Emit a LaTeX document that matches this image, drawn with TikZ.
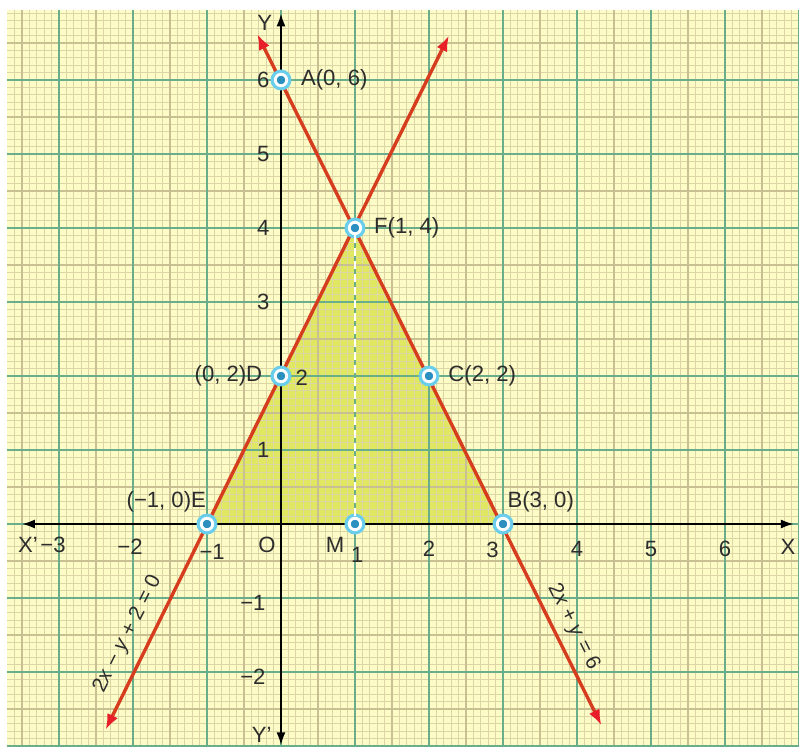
\documentclass[tikz,border=0pt]{standalone}
\usepackage{fontspec}
\setmainfont{Liberation Sans}
\usetikzlibrary{arrows.meta, positioning}
\definecolor{paperYellow}{HTML}{FDFBC6}
\definecolor{gridMinor}{HTML}{DCD6A6}
\definecolor{gridMid}{HTML}{C8BF92}
\definecolor{gridMajor}{HTML}{6AAD8A}
\definecolor{regionGreen}{HTML}{E0E760}
\definecolor{lineRed}{HTML}{D63C1E}
\definecolor{tipRed}{HTML}{E81E28}
\definecolor{ringBlue}{HTML}{6ACDEB}
\definecolor{dotBlue}{HTML}{2B8FC0}
\definecolor{textDark}{HTML}{2D2D2D}

\begin{document}
\begin{tikzpicture}[
    font=\fontsize{8.5}{10}\selectfont\color{textDark},
    pt/.style={circle, inner sep=0pt, minimum size=4.4pt, fill=dotBlue,
               draw=white, line width=1.1pt,
               preaction={draw=ringBlue, line width=3.6pt}},
    axis/.style={line width=0.8pt, {Latex[length=5pt,width=3.5pt]}-{Latex[length=5pt,width=3.5pt]}},
    redline/.style={lineRed, line width=1.3pt,
                    {Latex[length=6pt,width=4.5pt,color=tipRed]}-{Latex[length=6pt,width=4.5pt,color=tipRed]}},
    eqn/.style={font=\fontsize{8}{10}\selectfont\color{textDark}, inner sep=1pt},
  ]
    \useasboundingbox (-3.797,-3.014) rectangle (7.0,7.081);

    % graph paper
    \fill[paperYellow] (-3.7,-3.014) rectangle (7.0,6.95);
    \fill[regionGreen] (-1,0) -- (1,4) -- (3,0) -- cycle;
    \draw[gridMinor, line width=0.3pt, step=0.1] (-3.7,-3.014) grid (7.0,6.95);
    \draw[gridMid, line width=0.5pt, step=0.5] (-3.7,-3.014) grid (7.0,6.95);
    \draw[gridMajor, line width=1pt, step=1] (-3.7,-3.014) grid (7.0,6.95);

    % axes
    \coordinate (xl) at (-3.5,0);
    \coordinate (xr) at (6.93,0);
    \coordinate (yb) at (0,-2.99);
    \coordinate (yt) at (0,6.9);
    \draw[axis] (xl) -- (xr);
    \draw[axis] (yb) -- (yt);

    \node (lX)  at (6.85,-0.31) {X};
    \node (lXp) at (-3.42,-0.28) {X'};
    \node (lY)  at (-0.22,6.77) {Y};
    \node (lYp) at (-0.26,-2.85) {Y'};
    \node (lO)  at (-0.19,-0.28) {O};

    % tick numbers
    \foreach \x in {2,4,5,6}
      \node (tx\x) at (\x,-0.34) {\x};
    \node (txm3) at (-3.08,-0.28) {−3};
    \node (txm2) at (-2.04,-0.31) {−2};
    \node (txm1) at (-0.93,-0.38) {−1};
    \node (tx1)  at (1.03,-0.42) {1};
    \node (tx3)  at (2.86,-0.35) {3};
    \foreach \y in {1,3,4,5,6}
      \node (ty\y) at (-0.24,\y) {\y};
    \node (ty2)  at (0.28,1.98) {2};
    \node (tym1) at (-0.38,-1.07) {−1};
    \node (tym2) at (-0.38,-2.07) {−2};

    % the two lines
    \coordinate (p1s) at (-2.37,-2.78);
    \coordinate (p1e) at (2.27,6.6);
    \coordinate (p2s) at (-0.32,6.62);
    \coordinate (p2e) at (4.33,-2.72);
    \draw[redline] (p1s) -- (p1e);
    \draw[redline] (p2s) -- (p2e);

    \node[eqn, rotate=63.43] (eq1) at (-2.07,-1.49)
      {2\textit{x} − \textit{y} + 2 = 0};
    \node[eqn, rotate=-63.43] (eq2) at (3.95,-1.39)
      {2\textit{x} + \textit{y} = 6};

    % points
    \node[pt] (A) at (0,6) {};
    \node[pt] (F) at (1,4) {};
    \node[pt] (D) at (0,2) {};
    \node[pt] (C) at (2,2) {};
    \node[pt] (E) at (-1,0) {};
    \node[pt] (M) at (1,0) {};
    \node[pt] (B) at (3,0) {};
    \draw[white, line width=0.7pt, dash pattern=on 3pt off 2pt] (F) -- (M);

    \node (lA) at (0.72,6.0)   {A(0, 6)};
    \node (lF) at (1.70,4.0)   {F(1, 4)};
    \node (lC) at (2.72,2.0)   {C(2, 2)};
    \node (lD) at (-0.71,2.0)  {(0, 2)D};
    \node (lB) at (3.51,0.30)  {B(3, 0)};
    \node (lE) at (-1.55,0.30) {(−1, 0)E};
    \node (lM) at (0.73,-0.28) {M};
  \end{tikzpicture}
\end{document}
